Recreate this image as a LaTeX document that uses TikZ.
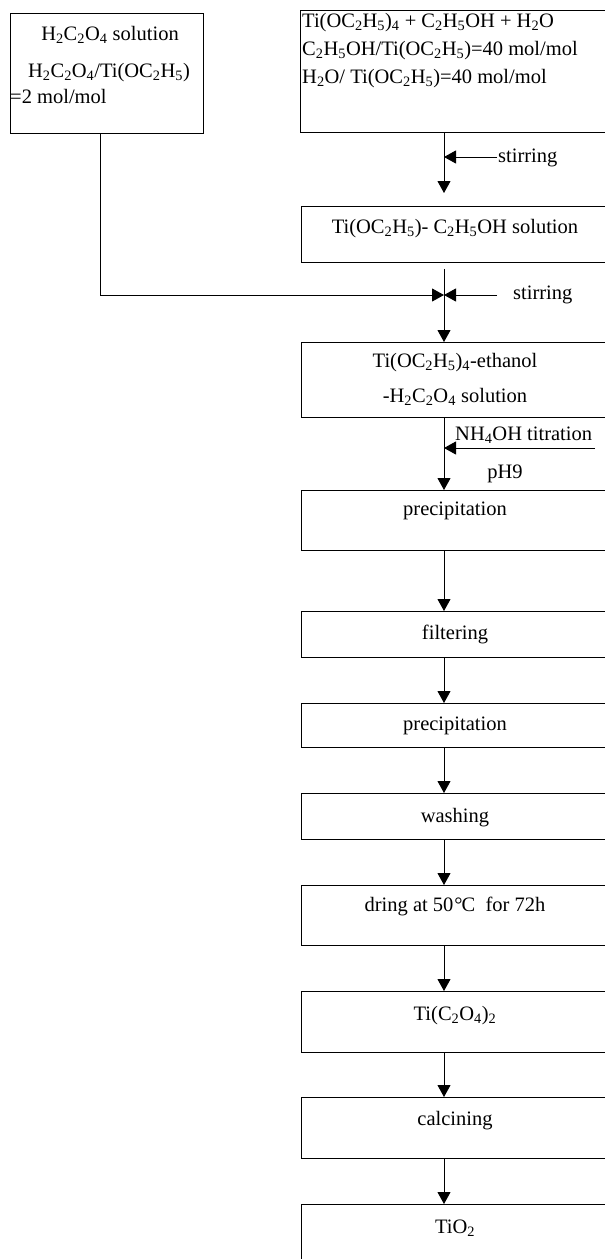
\documentclass[tikz,border=0pt]{standalone}
\usepackage{fontspec}
\setmainfont{Liberation Serif}
\usetikzlibrary{arrows.meta}
\newcommand{\sbs}[1]{\textsubscript{#1}}
\begin{document}
\begin{tikzpicture}[x=1pt,y=-1pt,
  box/.style={draw, line width=0.9pt, minimum width=308pt, inner sep=0pt, anchor=north west},
  txt/.style={font=\fontsize{20.5}{24}\selectfont, inner sep=0pt, anchor=base},
  txtl/.style={txt, anchor=base west},
  arr/.style={line width=0.9pt, -{Triangle[width=13pt,length=12pt]}}]
\useasboundingbox (0,0) rectangle (605,1259);
\clip (0,0) rectangle (605,1259);
% boxes
\node[box, minimum width=193pt, minimum height=120pt] (lb) at (10,13) {};
\node[box, minimum height=122pt] (b1) at (300,10) {};
\node[box, minimum height=56pt] (b2) at (301,206) {};
\node[box, minimum height=75pt] (b3) at (301,342) {};
\node[box, minimum height=60pt] (b4) at (301,490) {};
\node[box, minimum height=46pt] (b5) at (301,611) {};
\node[box, minimum height=44pt] (b6) at (301,703) {};
\node[box, minimum height=46pt] (b7) at (301,793) {};
\node[box, minimum height=60pt] (b8) at (301,885) {};
\node[box, minimum height=61pt] (b9) at (301,991) {};
\node[box, minimum height=61pt] (b10) at (301,1097) {};
\node[box, minimum height=80pt] (b11) at (301,1204) {};
% texts
\node[txt] (l1a) at (110,40) {H\sbs{2}C\sbs{2}O\sbs{4} solution};
\node[txt] (l1b) at (109,77) {H\sbs{2}C\sbs{2}O\sbs{4}/Ti(OC\sbs{2}H\sbs{5})};
\node[txtl] (l1c) at (10,103) {=2 mol/mol};
\node[txtl] (t1a) at (302,27) {Ti(OC\sbs{2}H\sbs{5})\sbs{4} + C\sbs{2}H\sbs{5}OH + H\sbs{2}O};
\node[txtl] (t1b) at (302,55) {C\sbs{2}H\sbs{5}OH/Ti(OC\sbs{2}H\sbs{5})=40 mol/mol};
\node[txtl] (t1c) at (302,83) {H\sbs{2}O/ Ti(OC\sbs{2}H\sbs{5})=40 mol/mol};
\node[txtl] (st1) at (498,162) {stirring};
\node[txt] (t2) at (455,233) {Ti(OC\sbs{2}H\sbs{5})- C\sbs{2}H\sbs{5}OH solution};
\node[txtl] (st2) at (513,299) {stirring};
\node[txt] (t3a) at (455,367) {Ti(OC\sbs{2}H\sbs{5})\sbs{4}-ethanol};
\node[txt] (t3b) at (455,402) {-H\sbs{2}C\sbs{2}O\sbs{4} solution};
\node[txtl] (nh) at (455,440) {NH\sbs{4}OH titration};
\node[txt] (ph) at (505,478) {pH9};
\node[txt] (t4) at (455,515) {precipitation};
\node[txt] (t5) at (455,639) {filtering};
\node[txt] (t6) at (455,730) {precipitation};
\node[txt] (t7) at (455,822) {washing};
\node[txt] (t8) at (455,911) {dring at 50\kern1pt°\kern-1ptC\ \ for 72h};
\node[txt] (t9) at (455,1020) {Ti(C\sbs{2}O\sbs{4})\sbs{2}};
\node[txt] (t10) at (455,1125) {calcining};
\node[txt] (t11) at (455,1233) {TiO\sbs{2}};
% helper coordinates
\coordinate (ax) at (444,0);
\coordinate (lx) at (100,0);
\coordinate (s1) at (497,157);
\coordinate (m1) at (444,295);
\coordinate (s2) at (497,295);
\coordinate (n1) at (595,448);
% connectors
\draw[arr, shorten >=13pt] (b1.south -| ax) -- (b2.north -| ax);
\draw[arr] (s1) -- (s1 -| ax);
\draw[arr, shorten <=6pt] (b2.south -| ax) -- (b3.north -| ax);
\draw[arr] (lb.south -| lx) |- (m1);
\draw[arr] (s2) -- (m1);
\draw[arr] (b3.south -| ax) -- (b4.north -| ax);
\draw[arr] (n1) -- (n1 -| ax);
\draw[arr] (b4.south -| ax) -- (b5.north -| ax);
\draw[arr] (b5.south -| ax) -- (b6.north -| ax);
\draw[arr] (b6.south -| ax) -- (b7.north -| ax);
\draw[arr] (b7.south -| ax) -- (b8.north -| ax);
\draw[arr] (b8.south -| ax) -- (b9.north -| ax);
\draw[arr] (b9.south -| ax) -- (b10.north -| ax);
\draw[arr] (b10.south -| ax) -- (b11.north -| ax);
\end{tikzpicture}
\end{document}
